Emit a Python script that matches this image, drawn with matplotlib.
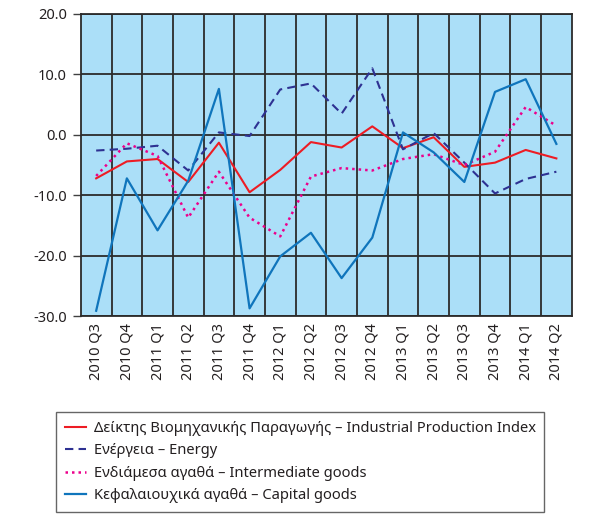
import numpy as np
import matplotlib
matplotlib.use("Agg")
import matplotlib.pyplot as plt
from matplotlib.ticker import FixedLocator, FuncFormatter

plt.rcParams['font.family'] = ['Noto Sans', 'DejaVu Sans']

quarters = ['2010 Q3', '2010 Q4', '2011 Q1', '2011 Q2', '2011 Q3', '2011 Q4',
            '2012 Q1', '2012 Q2', '2012 Q3', '2012 Q4', '2013 Q1', '2013 Q2',
            '2013 Q3', '2013 Q4', '2014 Q1', '2014 Q2']

industrial = [-7.2, -4.4, -4.0, -7.8, -1.3, -9.5, -5.8, -1.2,
              -2.1, 1.4, -2.2, -0.4, -5.3, -4.6, -2.5, -3.9]
energy = [-2.6, -2.3, -1.8, -5.9, 0.4, -0.2, 7.5, 8.5,
          3.5, 11.0, -2.4, 0.3, -4.6, -9.7, -7.3, -6.1]
intermediate = [-6.8, -1.4, -3.5, -13.7, -6.1, -13.7, -16.8, -6.9,
                -5.5, -5.9, -4.0, -3.2, -5.0, -2.8, 4.6, 1.5]
capital = [-29.1, -7.2, -15.8, -7.6, 7.6, -28.7, -20.1, -16.2,
           -23.7, -17.0, 0.4, -2.9, -7.8, 7.1, 9.2, -1.5]

labels = ['Δείκτης Βιομηχανικής Παραγωγής – Industrial Production Index',
          'Ενέργεια – Energy',
          'Ενδιάμεσα αγαθά – Intermediate goods',
          'Κεφαλαιουχικά αγαθά – Capital goods']

yticks = [-30, -20, -10, 0, 10, 20]

fig = plt.figure(figsize=(5.9, 5.15), dpi=100)
ax = fig.add_axes([0.137, 0.386, 0.832, 0.587])
ax.set_facecolor('#abdff8')

x = np.arange(len(quarters))
ax.plot(x, industrial, color='#ed1c24', lw=1.5, label=labels[0], zorder=3)
ax.plot(x, energy, color='#2e3192', lw=1.5, ls=(0, (4, 2.5)), label=labels[1], zorder=3)
ax.plot(x, intermediate, color='#ec008c', lw=1.8, ls=(0, (1, 1.6)), label=labels[2], zorder=3)
ax.plot(x, capital, color='#0f75bc', lw=1.6, label=labels[3], zorder=3)

ax.set_xlim(-0.5, len(quarters) - 0.5)
ax.set_ylim(-30, 20)
ax.set_xticks(x)
ax.set_xticklabels(quarters, rotation=90, fontsize=10.5, color='#231f20')
ax.xaxis.set_minor_locator(FixedLocator(np.arange(0.5, len(quarters) - 1, 1)))
ax.tick_params(axis='x', which='both', length=0, pad=5)
ax.set_yticks(yticks)
ax.yaxis.set_major_formatter(FuncFormatter(lambda v, p: f'{v:.1f}'))
ax.tick_params(axis='y', length=6, width=1, color='#404040', labelsize=10.5,
               labelcolor='#231f20', pad=4)

ax.grid(True, axis='y', which='major', color='#2b2b2b', lw=1.3, zorder=1)
ax.grid(True, axis='x', which='minor', color='#2b2b2b', lw=1.3, zorder=1)
ax.set_axisbelow(True)
for s in ax.spines.values():
    s.set_color('#2b2b2b')
    s.set_linewidth(1.3)

leg = fig.legend(loc='lower left', bbox_to_anchor=(0.09, 0.0), fontsize=10.6,
                 frameon=True, fancybox=False, handlelength=1.45, handletextpad=0.5,
                 labelspacing=0.5, borderpad=0.6, borderaxespad=0.2)
leg.get_frame().set_edgecolor('#404040')
leg.get_frame().set_linewidth(1.0)
for t in leg.get_texts():
    t.set_color('#231f20')

fig.savefig('out.png', dpi=100)
